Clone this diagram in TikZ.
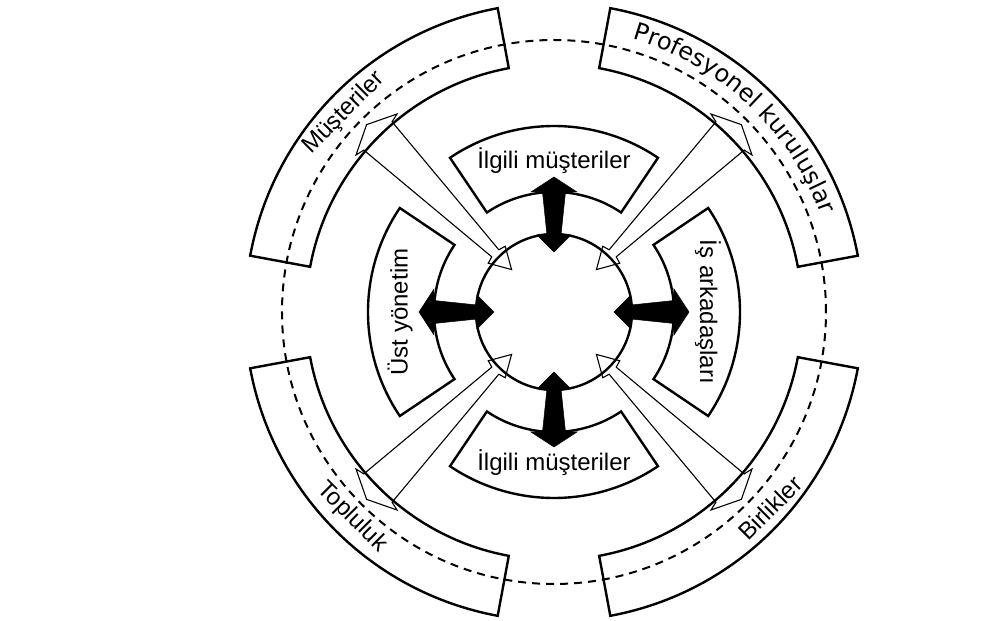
\documentclass[tikz,border=0pt]{standalone}
\usepackage{fontspec}
\setmainfont{Liberation Sans}
\newfontfamily\profont{DejaVu Sans}
\usetikzlibrary{decorations.text}
\newcommand\profmt{\profont\fontsize{24}{28}\selectfont}
\begin{document}
\begin{tikzpicture}[x=1pt,y=1pt,
  boxline/.style={line width=2.4pt, line join=miter},
  ring/.style={line width=2.4pt},
  dashring/.style={line width=2pt, dash pattern=on 8pt off 6pt},
  blackarrow/.style={fill=black, draw=black, line width=0.5pt, line join=miter},
  hollowarrow/.style={draw=black, line width=1.1pt, line join=miter},
  lbl/.style={font=\fontsize{24}{28}\selectfont, inner sep=0pt}]
\useasboundingbox (-554,312) rectangle (432,-309);
% outer sector boxes
\foreach \t in {45,135,225,315} {
  \draw[boxline] ({\t-34.5}:248) arc[start angle={\t-34.5}, end angle={\t+34.5}, radius=248]
     -- ({\t+34.5}:309) arc[start angle={\t+34.5}, end angle={\t-34.5}, radius=309] -- cycle;
}
% dashed ring
\draw[dashring] (0,0) circle[radius=272];
% inner sector boxes
\foreach \t in {0,90,180,270} {
  \draw[boxline] ({\t-34}:120) arc[start angle={\t-34}, end angle={\t+34}, radius=120]
     -- ({\t+34}:186) arc[start angle={\t+34}, end angle={\t-34}, radius=186] -- cycle;
}
% inner circle
\draw[ring] (0,0) circle[radius=78];
% hollow tapered arrows
\foreach \t in {45,135,225,315} {
  \begin{scope}[rotate=\t]
    \draw[hollowarrow] (60,0) -- (81,12) -- (83,5) -- (249,20) -- (251,29) -- (265,0)
       -- (251,-29) -- (249,-20) -- (83,-5) -- (81,-12) -- cycle;
  \end{scope}
}
% black double arrows
\foreach \t in {0,90,180,270} {
  \begin{scope}[rotate=\t]
    \filldraw[blackarrow] (60,0) -- (77,17) -- (77,7) -- (120,11.5) -- (120,23) -- (135,0)
       -- (120,-23) -- (120,-11.5) -- (77,-7) -- (77,-17) -- cycle;
  \end{scope}
}
% labels
\node[lbl] (ilgiliust) at (90:151) {İlgili müşteriler};
\node[lbl] (ilgilialt) at (270:151) {İlgili müşteriler};
\node[lbl, rotate=90] (ust) at (180:154) {Üst yönetim};
\node[lbl, rotate=-90] (is) at (0:154) {İş arkadaşları};
\node[lbl, rotate=45] (musteri) at (-210,199) {Müşteriler};
\node[lbl, rotate=-45] (topluluk) at (-202,-205) {Topluluk};
\node[lbl, rotate=45] (birlik) at (216,-196) {Birlikler};
\path[decorate, decoration={text along path, text align=center,
   text={|\profmt|Profesyonel kuruluşlar}}]
   (78:284) arc[start angle=78, end angle=16, radius=284];
\end{tikzpicture}
\end{document}
